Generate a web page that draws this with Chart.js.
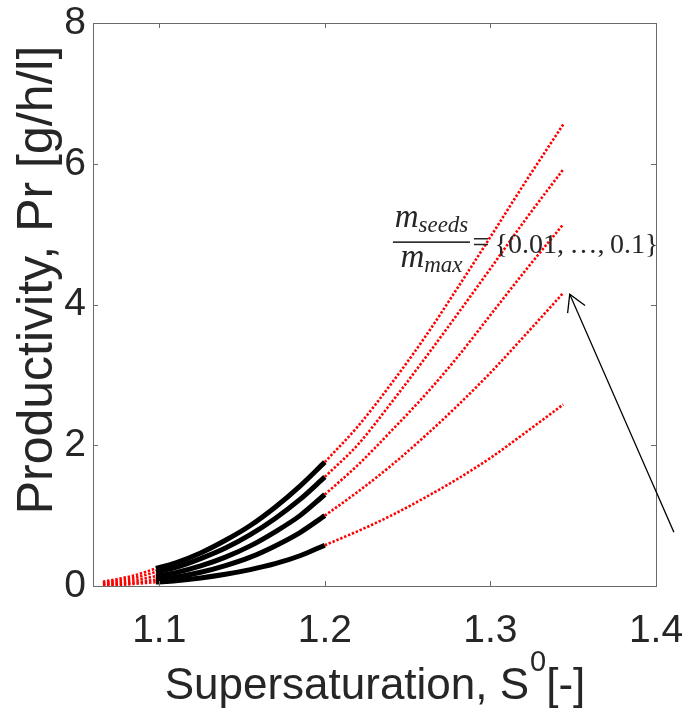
<!DOCTYPE html>
<html><head><meta charset="utf-8">
<script src="https://cdn.jsdelivr.net/npm/chart.js@4.4.1/dist/chart.umd.min.js"></script>
<style>html,body{margin:0;padding:0;background:#fff;} #wrap{width:685px;height:715px;position:relative;}</style>
</head><body><div id="wrap"><canvas id="c" width="685" height="715"></canvas></div>
<script>
// ---- data ----
const xSolid   = [1.098, 1.11, 1.125, 1.14, 1.155, 1.17, 1.185, 1.2];
const xDotLow  = [1.066, 1.075, 1.085, 1.098];
const xDotHigh = [1.2, 1.22, 1.24, 1.26, 1.28, 1.30, 1.32, 1.344];

const solid1 = [0.25, 0.33, 0.47, 0.65, 0.86, 1.12, 1.42, 1.76];
const solid2 = [0.20, 0.265, 0.39, 0.54, 0.73, 0.96, 1.23, 1.55];
const solid3 = [0.14, 0.19, 0.285, 0.41, 0.57, 0.77, 1.00, 1.30];
const solid4 = [0.09, 0.125, 0.195, 0.29, 0.41, 0.57, 0.76, 1.00];
const solid5 = [0.055, 0.075, 0.115, 0.167, 0.233, 0.317, 0.43, 0.58];

const low1 = [0.06, 0.10, 0.15, 0.25];
const low2 = [0.045, 0.075, 0.115, 0.20];
const low3 = [0.03, 0.05, 0.08, 0.14];
const low4 = [0.02, 0.03, 0.05, 0.09];
const low5 = [0.01, 0.015, 0.03, 0.055];

const high1 = [1.76, 2.27, 2.87, 3.52, 4.23, 4.96, 5.70, 6.56];
const high2 = [1.55, 2.01, 2.60, 3.22, 3.86, 4.51, 5.17, 5.92];
const high3 = [1.30, 1.72, 2.20, 2.70, 3.25, 3.85, 4.45, 5.14];
const high4 = [1.00, 1.34, 1.71, 2.12, 2.56, 3.03, 3.54, 4.165];
const high5 = [0.58, 0.78, 1.00, 1.25, 1.52, 1.82, 2.16, 2.58];

const xTicks = [1.1, 1.2, 1.3, 1.4];
const yTicks = [0, 2, 4, 6, 8];
const xRange = [1.06, 1.4];
const yRange = [0, 8];

const xTitle = ['Supersaturation, S', '0', '[-]'];
const yTitle = 'Productivity, Pr [g/h/l]';
const annoNum = ['m', 'seeds'];
const annoDen = ['m', 'max'];
const annoRhs = '{0.01,\u2009\u2026,\u20090.1}';
const annoAt = [1.2644, 4.886];
const arrowFrom = [1.4108, 0.763];
const arrowTo = [1.3479, 4.146];

// ---- build datasets ----
const pts = (xs, ys) => xs.map((x, i) => ({x: x, y: ys[i]}));
const solidSets = [solid1, solid2, solid3, solid4, solid5];
const lowSets = [low1, low2, low3, low4, low5];
const highSets = [high1, high2, high3, high4, high5];
const datasets = [];
lowSets.forEach(s => datasets.push({data: pts(xDotLow, s), borderColor: '#ff0000', borderWidth: 2.6, borderDash: [2.4, 1.8], pointRadius: 0, showLine: true, cubicInterpolationMode: 'monotone', borderCapStyle: 'butt'}));
highSets.forEach(s => datasets.push({data: pts(xDotHigh, s), borderColor: '#ff0000', borderWidth: 2.6, borderDash: [2.4, 1.8], pointRadius: 0, showLine: true, cubicInterpolationMode: 'monotone', borderCapStyle: 'butt'}));
solidSets.forEach(s => datasets.push({data: pts(xSolid, s), borderColor: '#000000', borderWidth: 5, pointRadius: 0, showLine: true, cubicInterpolationMode: 'monotone', borderCapStyle: 'butt'}));

const TXT = '#262626';
const SANS = '"Liberation Sans", Arial, sans-serif';
const SERIF = '"Liberation Serif", "DejaVu Serif", serif';

const decor = {
  id: 'decor',
  afterDraw(chart) {
    const ctx = chart.ctx, a = chart.chartArea, xs = chart.scales.x, ys = chart.scales.y;
    ctx.save();
    // box
    ctx.strokeStyle = '#6a6a6a'; ctx.lineWidth = 1;
    ctx.strokeRect(Math.round(a.left) + 0.5, Math.round(a.top) + 0.5, Math.round(a.right - a.left), Math.round(a.bottom - a.top));
    // inward ticks
    const tl = 5;
    ctx.beginPath();
    xTicks.forEach(v => {
      const px = Math.round(xs.getPixelForValue(v)) + 0.5;
      if (px > a.left + 1 && px < a.right - 1) {
        ctx.moveTo(px, a.bottom); ctx.lineTo(px, a.bottom - tl);
        ctx.moveTo(px, a.top); ctx.lineTo(px, a.top + tl);
      }
    });
    yTicks.forEach(v => {
      const py = Math.round(ys.getPixelForValue(v)) + 0.5;
      if (py > a.top + 1 && py < a.bottom - 1) {
        ctx.moveTo(a.left, py); ctx.lineTo(a.left + tl, py);
        ctx.moveTo(a.right, py); ctx.lineTo(a.right - tl, py);
      }
    });
    ctx.stroke();

    ctx.fillStyle = TXT;
    // x title with superscript
    const big = '44px ' + SANS, sup = '29px ' + SANS;
    ctx.font = big; const w1 = ctx.measureText(xTitle[0]).width, w3 = ctx.measureText(xTitle[2]).width;
    ctx.font = sup; const w2 = ctx.measureText(xTitle[1]).width;
    const cxT = (a.left + a.right) / 2;
    let x0 = cxT - (w1 + w2 + w3) / 2;
    const by = 699;
    ctx.textBaseline = 'alphabetic'; ctx.textAlign = 'left';
    ctx.font = big; ctx.fillText(xTitle[0], x0, by);
    ctx.font = sup; ctx.fillText(xTitle[1], x0 + w1 + 1, by - 28);
    ctx.font = big; ctx.fillText(xTitle[2], x0 + w1 + w2 + 1, by);

    // y title
    ctx.save();
    ctx.translate(52, 280);
    ctx.rotate(-Math.PI / 2);
    ctx.textAlign = 'center';
    ctx.font = '50px ' + SANS;
    ctx.fillText(yTitle, 0, 0);
    ctx.restore();

    // annotation text
    const cx = xs.getPixelForValue(annoAt[0]), cy = ys.getPixelForValue(annoAt[1]);
    const mF = 'italic 33px ' + SERIF, sF = 'italic 23px ' + SERIF;
    ctx.font = mF; const wm = ctx.measureText('m').width;
    ctx.font = sF; const wsd = ctx.measureText(annoNum[1]).width, wmx = ctx.measureText(annoDen[1]).width;
    let xn = cx - (wm + wsd) / 2;
    ctx.font = mF; ctx.fillText(annoNum[0], xn, cy - 15);
    ctx.font = sF; ctx.fillText(annoNum[1], xn + wm, cy - 10);
    let xd = cx - (wm + wmx) / 2;
    ctx.font = mF; ctx.fillText(annoDen[0], xd, cy + 25);
    ctx.font = sF; ctx.fillText(annoDen[1], xd + wm, cy + 30);
    ctx.fillRect(cx - 38.5, cy - 0.8, 77, 1.6);
    ctx.font = '30px ' + SERIF;
    ctx.fillText('=', cx + 41, cy + 10);
    ctx.font = '28px ' + SERIF;
    ctx.fillText(annoRhs, cx + 63, cy + 11);

    // arrow
    const fx = xs.getPixelForValue(arrowFrom[0]), fy = ys.getPixelForValue(arrowFrom[1]);
    const tx = xs.getPixelForValue(arrowTo[0]), ty = ys.getPixelForValue(arrowTo[1]);
    ctx.strokeStyle = '#000'; ctx.lineWidth = 1.3;
    ctx.beginPath(); ctx.moveTo(fx, fy); ctx.lineTo(tx, ty); ctx.stroke();
    const ang = Math.atan2(fy - ty, fx - tx), hl = 19, ha = Math.PI / 6;
    ctx.beginPath();
    ctx.moveTo(tx + hl * Math.cos(ang + ha), ty + hl * Math.sin(ang + ha));
    ctx.lineTo(tx, ty);
    ctx.lineTo(tx + hl * Math.cos(ang - ha), ty + hl * Math.sin(ang - ha));
    ctx.stroke();
    ctx.restore();
  }
};

new Chart(document.getElementById('c'), {
  type: 'scatter',
  data: {datasets: datasets},
  options: {
    responsive: false,
    devicePixelRatio: 1,
    animation: false,
    layout: {padding: {left: 0, top: 23, right: 29, bottom: 0}},
    plugins: {legend: {display: false}, tooltip: {enabled: false}},
    scales: {
      x: {
        type: 'linear', min: xRange[0], max: xRange[1],
        afterBuildTicks: ax => { ax.ticks = xTicks.map(v => ({value: v})); },
        afterFit: ax => { ax.height = 129; ax.paddingLeft = 0; ax.paddingRight = 0; },
        grid: {display: false, drawTicks: false},
        border: {display: false},
        ticks: {color: TXT, font: {family: SANS, size: 39}, padding: 22, maxRotation: 0, autoSkip: false, callback: v => v.toFixed(1)}
      },
      y: {
        type: 'linear', min: yRange[0], max: yRange[1],
        afterBuildTicks: ax => { ax.ticks = yTicks.map(v => ({value: v})); },
        afterFit: ax => { ax.width = 93; ax.paddingTop = 0; ax.paddingBottom = 0; },
        grid: {display: false, drawTicks: false},
        border: {display: false},
        ticks: {color: TXT, font: {family: SANS, size: 39}, padding: 7, autoSkip: false, callback: v => String(v)}
      }
    }
  },
  plugins: [decor]
});
</script>
</body></html>
